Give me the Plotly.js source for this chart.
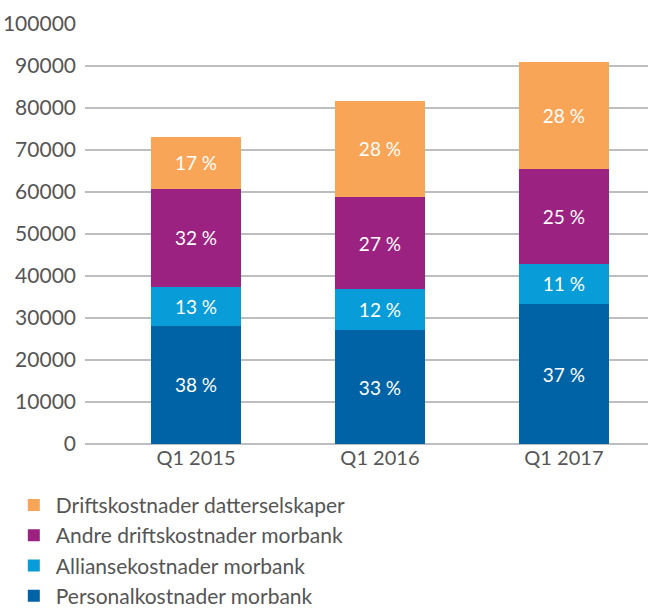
<!DOCTYPE html>
<html>
<head>
<meta charset="utf-8">
<script src="https://cdn.plot.ly/plotly-3.0.1.min.js"></script>
<style>html,body{margin:0;padding:0;background:#fff;}#chart{width:648px;height:613px;}</style>
</head>
<body>
<div id="chart"></div>
<script>
const categories = ["Q1 2015", "Q1 2016", "Q1 2017"];
const personal = [28100, 27100, 33300];
const allianse = [9300, 9800, 9600];
const andre = [23300, 21900, 22600];
const drift = [12500, 22900, 25500];
const personalPct = ["38 %", "33 %", "37 %"];
const alliansePct = ["13 %", "12 %", "11 %"];
const andrePct = ["32 %", "27 %", "25 %"];
const driftPct = ["17 %", "28 %", "28 %"];
const seriesNames = ["Personalkostnader morbank", "Alliansekostnader morbank", "Andre driftskostnader morbank", "Driftskostnader datterselskaper"];
const colors = ["#0063A6", "#089CD8", "#9C2282", "#F9A558"];

const vals = [personal, allianse, andre, drift];
const pcts = [personalPct, alliansePct, andrePct, driftPct];
const traces = vals.map((v, i) => ({
  type: "bar",
  x: categories,
  y: v,
  name: seriesNames[i],
  text: pcts[i],
  textposition: "inside",
  insidetextanchor: "middle",
  textfont: {color: "#ffffff", size: 19, family: "Lato, sans-serif"},
  marker: {color: colors[i]},
  width: 0.49,
  hoverinfo: "y+name"
}));

const layout = {
  width: 648, height: 613,
  margin: {l: 85, r: 0, t: 24, b: 169, autoexpand: false},
  barmode: "stack",
  showlegend: true,
  paper_bgcolor: "#ffffff",
  plot_bgcolor: "#ffffff",
  font: {family: "Lato, sans-serif", color: "#555555"},
  xaxis: {
    type: "category",
    range: [-0.603, 2.457],
    tickfont: {size: 20, color: "#555555"},
    showgrid: false, showline: false, ticks: "",
  },
  yaxis: {
    range: [0, 100000],
    dtick: 10000,
    tickformat: "d",
    tickfont: {size: 21, color: "#555555"},
    gridcolor: "#BDBEC2", gridwidth: 2,
    zeroline: true, zerolinecolor: "#BDBEC2", zerolinewidth: 2,
    ticks: "", ticklabelstandoff: 8,
    showline: false
  },
  legend: {
    orientation: "v",
    traceorder: "reversed",
    x: -0.13, xanchor: "left",
    y: -0.097, yanchor: "top",
    font: {size: 21, color: "#555555"},
    tracegroupgap: 0,
    itemwidth: 34
  }
};

Plotly.newPlot("chart", traces, layout, {displayModeBar: false, staticPlot: true});
</script>
</body>
</html>
